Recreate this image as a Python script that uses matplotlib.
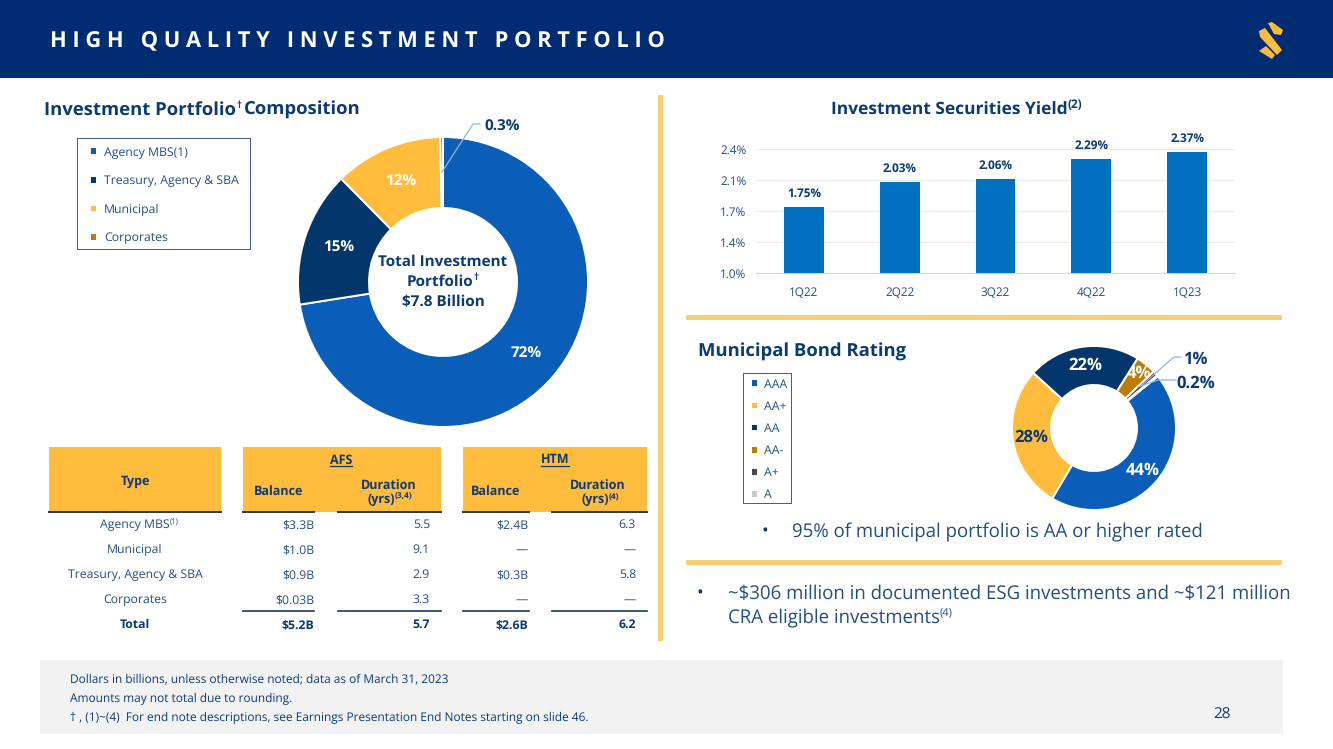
import numpy as np
import matplotlib
matplotlib.use('Agg')
import matplotlib.pyplot as plt
from matplotlib.patches import Rectangle, Polygon

plt.rcParams['font.family'] = ['Open Sans', 'DejaVu Sans']
plt.rcParams['text.hinting'] = 'no_hinting'

# Datos
portfolio_labels = ['Agency MBS(1)', 'Treasury, Agency & SBA', 'Municipal', 'Corporates']
portfolio_values = [72, 15, 12, 0.3]
portfolio_text = ['72%', '15%', '12%', '']

quarters = ['1Q22', '2Q22', '3Q22', '4Q22', '1Q23']
yields = [1.75, 2.03, 2.06, 2.29, 2.37]
yield_ticks = [1.0, 1.35, 1.7, 2.05, 2.4]
yield_tick_labels = ['1.0%', '1.4%', '1.7%', '2.1%', '2.4%']

muni_labels = ['AAA', 'AA+', 'AA', 'AA-', 'A+', 'A']
muni_values = [44, 28, 22, 4, 1, 0.2]
muni_text = ['44%', '28%', '22%', '4%', '', '']

table_types = ['Agency MBS', 'Municipal', 'Treasury, Agency & SBA', 'Corporates', 'Total']
afs_balance = ['$3.3B', '$1.0B', '$0.9B', '$0.03B', '$5.2B']
afs_duration = ['5.5', '9.1', '2.9', '3.3', '5.7']
htm_balance = ['$2.4B', '—', '$0.3B', '—', '$2.6B']
htm_duration = ['6.3', '—', '5.8', '—', '6.2']

footnotes = ['Dollars in billions, unless otherwise noted; data as of March 31, 2023',
             'Amounts may not total due to rounding.',
             '† , (1)~(4)  For end note descriptions, see Earnings Presentation End Notes starting on slide 46.']

# Colores
HEADER = '#002D72'
NAVY = '#0B3A75'
TEXT = '#234E85'
GOLD = '#FFBC3D'
RULE = '#FBCF72'
portfolio_colors = ['#0A5EB8', '#03376B', GOLD, '#BD7C06']
muni_colors = ['#0A5EB8', GOLD, '#03376B', '#BD7C06', '#4A4A4A', '#C9C9C9']
LEADER = '#8DB4E8'

W, H = 1333, 749
fig = plt.figure(figsize=(13.33, 7.49), dpi=100, facecolor='white')


def px_axes(x0, y0, x1, y1, **kw):
    # ejes a partir de pixeles de la imagen (y hacia abajo)
    return fig.add_axes([x0 / W, 1 - y1 / H, (x1 - x0) / W, (y1 - y0) / H], **kw)


bg = px_axes(0, 0, W, H, zorder=0)
bg.set_xlim(0, W)
bg.set_ylim(H, 0)
bg.axis('off')
top = px_axes(0, 0, W, H, zorder=5)
top.set_xlim(0, W)
top.set_ylim(H, 0)
top.axis('off')


def box(x0, y0, x1, y1, color):
    bg.add_patch(Rectangle((x0, y0), x1 - x0, y1 - y0, fc=color, ec='none'))


def txt(x, y, s, size, ax=bg, color=TEXT, weight='normal', ha='left'):
    return ax.text(x, y + 1, s, fontsize=size, color=color, fontweight=weight, ha=ha, va='center', parse_math=False)


def with_sup(x, y, s, sup, size, sup_size, ax=bg, color=NAVY, weight='bold', ha='left', dy=-5):
    # texto con superindice colocado al final del texto base
    t = txt(x, y, s, size, ax=ax, color=color, weight=weight, ha=ha)
    bb = t.get_window_extent(fig.canvas.get_renderer())
    xe = ax.transData.inverted().transform((bb.x1, bb.y0))[0]
    txt(xe, y + dy, sup, sup_size, ax=ax, color=color, weight=weight)


# Cabecera
box(0, 0, W, 78, HEADER)
txt(50, 41, 'H I G H   Q U A L I T Y   I N V E S T M E N T   P O R T F O L I O', 15.75, color='white', weight='bold')
logo_pieces = [[(1268, 23), (1272, 22), (1283, 30), (1281, 35), (1274, 34)],
               [(1259, 31), (1265, 28), (1282, 50), (1277, 55), (1260, 37)],
               [(1259, 51), (1266, 46), (1275, 55), (1272, 59)]]
for piece in logo_pieces:
    bg.add_patch(Polygon(piece, closed=True, fc=GOLD, ec='none'))

# Separadores
box(658, 95, 663, 641, RULE)
box(686, 315, 1282, 320, RULE)
box(686, 560, 1282, 565, RULE)

# Pie de pagina
box(40, 660, 1283, 734, '#F2F2F2')
for y, line in zip([678, 698, 717], footnotes):
    txt(70, y, line, 8.6, color=NAVY)
txt(1222, 714, '28', 11, color=NAVY, ha='center')

# Titulos
with_sup(44, 109, 'Investment Portfolio', '†', 13.3, 7, dy=-5)
txt(244, 109, 'Composition', 13.3, color=NAVY, weight='bold')
with_sup(831, 109, 'Investment Securities Yield', '(2)', 12.5, 8.5)
txt(698, 351, 'Municipal Bond Rating', 13.3, color=NAVY, weight='bold')


def donut(cx, cy, r, r_in, values, colors, start, labels, label_colors, size, label_radius=None):
    ax = px_axes(cx - r, cy - r, cx + r, cy + r, zorder=3)
    wedges, _ = ax.pie(values, colors=colors, startangle=start, counterclock=False,
                       wedgeprops=dict(width=1 - r_in / r, edgecolor='white', linewidth=1.4))
    ax.set_xlim(-1, 1)
    ax.set_ylim(-1, 1)
    for i, (w, s, c) in enumerate(zip(wedges, labels, label_colors)):
        if s:
            ang = np.deg2rad((w.theta1 + w.theta2) / 2)
            rm = label_radius[i] if label_radius else (1 + r_in / r) / 2
            ax.text(rm * np.cos(ang), rm * np.sin(ang), s, color=c, fontsize=size,
                    fontweight='bold', ha='center', va='center')
    return ax, wedges


# Dona de composicion
ax1, w1 = donut(443, 282, 145, 74, portfolio_values, portfolio_colors, 90, portfolio_text,
                ['white'] * 4, 11)
txt(443, 261, 'Total Investment', 11, ax=top, color=NAVY, weight='bold', ha='center')
with_sup(440, 281, 'Portfolio', '†', 11, 7, ax=top, ha='center', dy=-5)
txt(443, 301, '$7.8 Billion', 11, ax=top, color=NAVY, weight='bold', ha='center')
top.plot([442, 473, 480], [172, 124, 124], color=LEADER, lw=0.9)
txt(484, 126, '0.3%', 11, ax=top, color=NAVY, weight='bold')

box(77, 138, 251, 250, '#41618C')
box(78, 139, 250, 249, 'white')
fig.legend(w1, portfolio_labels, loc='upper left', bbox_to_anchor=(90 / W, 1 - 146.5 / H), frameon=False,
           fontsize=8.8, labelcolor=TEXT, handlelength=0.6, handleheight=0.6, handletextpad=0.55,
           labelspacing=1.36, borderpad=0, borderaxespad=0)

# Barras
ax2 = px_axes(756, 149, 1235, 273, zorder=2)
ax2.bar(quarters, yields, width=0.417, color='#0070C0', zorder=3)
ax2.set_xlim(-0.5, 4.5)
ax2.set_ylim(1.0, 2.4)
ax2.set_yticks(yield_ticks, yield_tick_labels)
ax2.grid(axis='y', color='#E8ECF2', lw=0.9, zorder=0)
ax2.tick_params(length=0, labelsize=8.5, labelcolor=TEXT, pad=7)
ax2.tick_params(axis='x', pad=10)
ax2.patch.set_alpha(0)
for s in ['top', 'left', 'right']:
    ax2.spines[s].set_visible(False)
ax2.spines['bottom'].set_color('#C9DAF0')
for i, v in enumerate(yields):
    ax2.annotate(f'{v:.2f}%', (i, v), xytext=(0, 9.5), textcoords='offset points', ha='center', va='center',
                 fontsize=8.5, fontweight='bold', color=NAVY, annotation_clip=False)

# Dona de municipales
ax3, w3 = donut(1094, 428, 82, 43, muni_values, muni_colors, 39, muni_text,
                ['white', NAVY, 'white', 'white', 'white', 'white'], 12,
                label_radius=[0.79, 0.77, 0.77, 0.86, 0, 0])
top.plot([1142, 1174, 1181], [385, 357, 357], color=LEADER, lw=0.9)
top.plot([1138, 1158, 1176], [387, 380, 380], color=LEADER, lw=0.9)
txt(1183, 358, '1%', 12, ax=top, color=NAVY, weight='bold')
txt(1176, 382, '0.2%', 12, ax=top, color=NAVY, weight='bold')

box(743, 373, 792, 504, '#41618C')
box(744, 374, 791, 503, 'white')
fig.legend(w3, muni_labels, loc='upper left', bbox_to_anchor=(751 / W, 1 - 378.5 / H), frameon=False,
           fontsize=8.8, labelcolor=TEXT, handlelength=0.6, handleheight=0.6, handletextpad=0.5,
           labelspacing=0.83, borderpad=0, borderaxespad=0)

# Vinetas
txt(765, 531, '•', 13, color=NAVY, ha='center')
txt(792, 531, '95% of municipal portfolio is AA or higher rated', 13.4)
txt(700, 593, '•', 13, color=NAVY, ha='center')
txt(728, 593, '~$306 million in documented ESG investments and ~$121 million', 13.4)
with_sup(728, 617, 'CRA eligible investments', '(4)', 13.4, 8, color=TEXT, weight='normal')

# Tabla
box(49, 447, 221, 512, GOLD)
box(243, 447, 441, 512, GOLD)
box(463, 447, 647, 512, GOLD)
for x0, x1 in [(49, 221), (243, 314), (338, 441), (463, 529), (552, 647)]:
    bg.plot([x0, x1], [512, 512], color='#1D3A5F', lw=1.4)
for x0, x1 in [(243, 314), (338, 441), (463, 529), (552, 647)]:
    bg.plot([x0, x1], [611, 611], color='#1D3A5F', lw=1.2)

txt(135, 480, 'Type', 9, color=NAVY, weight='bold', ha='center')
for x, half, name in [(341, 11, 'AFS'), (555, 14, 'HTM')]:
    txt(x, 459, name, 9, color=NAVY, weight='bold', ha='center')
    bg.plot([x - half, x + half], [466, 466], color=NAVY, lw=0.9)
txt(279, 491, 'Balance', 9, color=NAVY, weight='bold', ha='center')
txt(496, 491, 'Balance', 9, color=NAVY, weight='bold', ha='center')
txt(389, 485, 'Duration', 9, color=NAVY, weight='bold', ha='center')
txt(598, 485, 'Duration', 9, color=NAVY, weight='bold', ha='center')
with_sup(367, 499, '(yrs)', '(3,4)', 9, 6, dy=-3)
with_sup(581, 499, '(yrs)', '(4)', 9, 6, dy=-3)

rows_y = [524, 549, 574, 599, 624]
for i, y in enumerate(rows_y):
    total = i == len(rows_y) - 1
    weight = 'bold' if total else 'normal'
    color = NAVY if total else TEXT
    if i == 0:
        with_sup(135, y, table_types[i], '(1)', 8.8, 5.5, color=color, weight='normal', ha='center', dy=-3)
    else:
        txt(135, y, table_types[i], 8.8, color=color, weight=weight, ha='center')
    txt(314, y, afs_balance[i], 8.8, color=color, weight=weight, ha='right')
    txt(430, y, afs_duration[i], 8.8, color=color, weight=weight, ha='right')
    txt(528, y, htm_balance[i], 8.8, color=color, weight=weight, ha='right')
    txt(636, y, htm_duration[i], 8.8, color=color, weight=weight, ha='right')

plt.savefig('out.png', dpi=100, facecolor='white')
